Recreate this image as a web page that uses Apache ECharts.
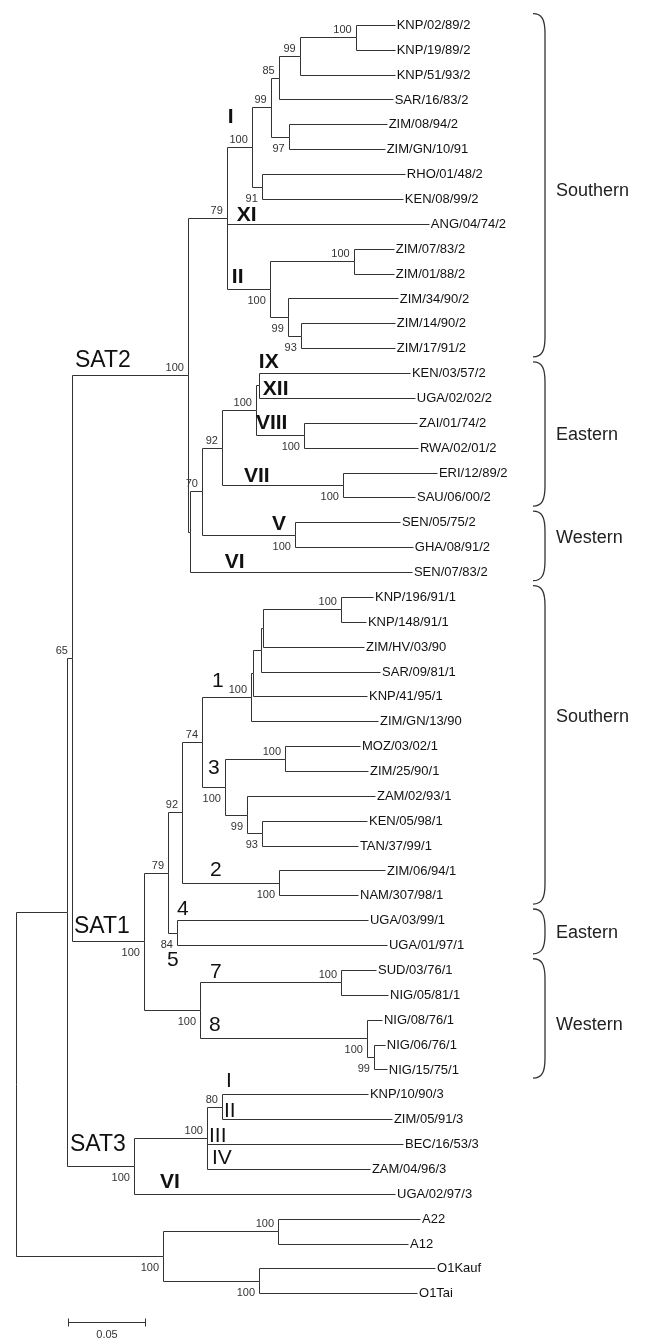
<!DOCTYPE html>
<html>
<head>
<meta charset="utf-8">
<script src="https://cdn.jsdelivr.net/npm/echarts@6/dist/echarts.min.js"></script>
<style>
  html, body { margin: 0; background: #fff; }
  #chart { width: 669px; height: 1343px; }
</style>
</head>
<body>
<div id="chart"></div>
<script>
// leaf order, top to bottom
var taxa = [
  'KNP/02/89/2', 'KNP/19/89/2', 'KNP/51/93/2', 'SAR/16/83/2', 'ZIM/08/94/2', 'ZIM/GN/10/91',
  'RHO/01/48/2', 'KEN/08/99/2', 'ANG/04/74/2', 'ZIM/07/83/2', 'ZIM/01/88/2', 'ZIM/34/90/2',
  'ZIM/14/90/2', 'ZIM/17/91/2', 'KEN/03/57/2', 'UGA/02/02/2', 'ZAI/01/74/2', 'RWA/02/01/2',
  'ERI/12/89/2', 'SAU/06/00/2', 'SEN/05/75/2', 'GHA/08/91/2', 'SEN/07/83/2',
  'KNP/196/91/1', 'KNP/148/91/1', 'ZIM/HV/03/90', 'SAR/09/81/1', 'KNP/41/95/1', 'ZIM/GN/13/90',
  'MOZ/03/02/1', 'ZIM/25/90/1', 'ZAM/02/93/1', 'KEN/05/98/1', 'TAN/37/99/1', 'ZIM/06/94/1',
  'NAM/307/98/1', 'UGA/03/99/1', 'UGA/01/97/1', 'SUD/03/76/1', 'NIG/05/81/1', 'NIG/08/76/1',
  'NIG/06/76/1', 'NIG/15/75/1',
  'KNP/10/90/3', 'ZIM/05/91/3', 'BEC/16/53/3', 'ZAM/04/96/3', 'UGA/02/97/3',
  'A22', 'A12', 'O1Kauf', 'O1Tai'
];

// [node, parent, branch length (subst./site), bootstrap]
var baseBranches = [
  ['IN', 'root', 0.0331, null],
  ['S21', 'IN', 0.0032, 65]
];

var sat2Branches = [
  ['SAT2', 'S21', 0.0753, 100],
  ['n79', 'SAT2', 0.0253, 79],
  ['nI', 'n79', 0.0162, 100],
  ['n99a', 'nI', 0.0123, 99],
  ['n85', 'n99a', 0.0052, 85],
  ['n99b', 'n85', 0.0136, 99],
  ['n100a', 'n99b', 0.0364, 100],
  ['KNP/02/89/2', 'n100a', 0.0253, null],
  ['KNP/19/89/2', 'n100a', 0.0253, null],
  ['KNP/51/93/2', 'n99b', 0.0617, null],
  ['SAR/16/83/2', 'n85', 0.0740, null],
  ['n97', 'n99a', 0.0117, 97],
  ['ZIM/08/94/2', 'n97', 0.0636, null],
  ['ZIM/GN/10/91', 'n97', 0.0623, null],
  ['n91', 'nI', 0.0065, 91],
  ['RHO/01/48/2', 'n91', 0.0929, null],
  ['KEN/08/99/2', 'n91', 0.0916, null],
  ['ANG/04/74/2', 'n79', 0.1312, null],
  ['nII', 'n79', 0.0279, 100],
  ['n100b', 'nII', 0.0545, 100],
  ['ZIM/07/83/2', 'n100b', 0.0260, null],
  ['ZIM/01/88/2', 'n100b', 0.0260, null],
  ['n99c', 'nII', 0.0117, 99],
  ['ZIM/34/90/2', 'n99c', 0.0714, null],
  ['n93', 'n99c', 0.0084, 93],
  ['ZIM/14/90/2', 'n93', 0.0610, null],
  ['ZIM/17/91/2', 'n93', 0.0610, null],
  ['n190', 'SAT2', 0.0013, null],
  ['n70', 'n190', 0.0078, 70],
  ['n92', 'n70', 0.0130, 92],
  ['n100c', 'n92', 0.0221, 100],
  ['nIX', 'n100c', 0.0019, null],
  ['KEN/03/57/2', 'nIX', 0.0981, null],
  ['UGA/02/02/2', 'nIX', 0.1013, null],
  ['nVIII', 'n100c', 0.0312, 100],
  ['ZAI/01/74/2', 'nVIII', 0.0734, null],
  ['RWA/02/01/2', 'nVIII', 0.0740, null],
  ['nVII', 'n92', 0.0786, 100],
  ['ERI/12/89/2', 'nVII', 0.0610, null],
  ['SAU/06/00/2', 'nVII', 0.0468, null],
  ['nV', 'n70', 0.0604, 100],
  ['SEN/05/75/2', 'nV', 0.0682, null],
  ['GHA/08/91/2', 'nV', 0.0766, null],
  ['SEN/07/83/2', 'n190', 0.1442, null]
];

var sat1Branches = [
  ['SAT1', 'S21', 0.0468, 100],
  ['n79b', 'SAT1', 0.0156, 79],
  ['n92b', 'n79b', 0.0091, 92],
  ['n74', 'n92b', 0.0130, 74],
  ['n1', 'n74', 0.0318, 100],
  ['nC', 'n1', 0.0013, null],
  ['nB', 'nC', 0.0052, null],
  ['nA', 'nB', 0.0013, null],
  ['n100d', 'nA', 0.0506, 100],
  ['KNP/196/91/1', 'n100d', 0.0208, null],
  ['KNP/148/91/1', 'n100d', 0.0162, null],
  ['ZIM/HV/03/90', 'nA', 0.0656, null],
  ['SAR/09/81/1', 'nB', 0.0773, null],
  ['KNP/41/95/1', 'nC', 0.0740, null],
  ['ZIM/GN/13/90', 'n1', 0.0825, null],
  ['n3', 'n74', 0.0149, 100],
  ['n100e', 'n3', 0.0390, 100],
  ['MOZ/03/02/1', 'n100e', 0.0487, null],
  ['ZIM/25/90/1', 'n100e', 0.0539, null],
  ['n99d', 'n3', 0.0143, 99],
  ['ZAM/02/93/1', 'n99d', 0.0831, null],
  ['n93b', 'n99d', 0.0097, 93],
  ['KEN/05/98/1', 'n93b', 0.0682, null],
  ['TAN/37/99/1', 'n93b', 0.0623, null],
  ['n2', 'n92b', 0.0630, 100],
  ['ZIM/06/94/1', 'n2', 0.0688, null],
  ['NAM/307/98/1', 'n2', 0.0513, null],
  ['n84', 'n79b', 0.0058, 84],
  ['UGA/03/99/1', 'n84', 0.1240, null],
  ['UGA/01/97/1', 'n84', 0.1364, null],
  ['nW', 'SAT1', 0.0364, 100],
  ['n7', 'nW', 0.0916, 100],
  ['SUD/03/76/1', 'n7', 0.0227, null],
  ['NIG/05/81/1', 'n7', 0.0305, null],
  ['n8', 'nW', 0.1084, 100],
  ['NIG/08/76/1', 'n8', 0.0097, null],
  ['n99e', 'n8', 0.0045, 99],
  ['NIG/06/76/1', 'n99e', 0.0071, null],
  ['NIG/15/75/1', 'n99e', 0.0084, null]
];

var sat3Branches = [
  ['SAT3', 'IN', 0.0435, 100],
  ['n100f', 'SAT3', 0.0474, 100],
  ['n80', 'n100f', 0.0097, 80],
  ['KNP/10/90/3', 'n80', 0.0948, null],
  ['ZIM/05/91/3', 'n80', 0.1104, null],
  ['BEC/16/53/3', 'n100f', 0.1273, null],
  ['ZAM/04/96/3', 'n100f', 0.1058, null],
  ['UGA/02/97/3', 'SAT3', 0.1695, null]
];

var outgroupBranches = [
  ['OUT', 'root', 0.0955, 100],
  ['nA22', 'OUT', 0.0747, 100],
  ['A22', 'nA22', 0.0922, null],
  ['A12', 'nA22', 0.0844, null],
  ['nO1', 'OUT', 0.0623, 100],
  ['O1Kauf', 'nO1', 0.1143, null],
  ['O1Tai', 'nO1', 0.1026, null]
];

// [label, node whose branch it marks]
var cladeLabels = [
  ['SAT2', 'SAT2'], ['SAT1', 'SAT1'], ['SAT3', 'SAT3'],
  ['I', 'nI'], ['XI', 'ANG/04/74/2'], ['II', 'nII'], ['IX', 'KEN/03/57/2'], ['XII', 'UGA/02/02/2'],
  ['VIII', 'nVIII'], ['VII', 'nVII'], ['V', 'nV'], ['VI', 'SEN/07/83/2'],
  ['1', 'n1'], ['3', 'n3'], ['2', 'n2'], ['4', 'UGA/03/99/1'], ['5', 'UGA/01/97/1'], ['7', 'n7'], ['8', 'n8'],
  ['I', 'KNP/10/90/3'], ['II', 'ZIM/05/91/3'], ['III', 'BEC/16/53/3'], ['IV', 'ZAM/04/96/3'], ['VI', 'UGA/02/97/3']
];

// topotype groups: name, first and last leaf row
var groupNames = ['Southern', 'Eastern', 'Western', 'Southern', 'Eastern', 'Western'];
var groupFirst = [0, 14, 20, 23, 36, 38];
var groupLast = [13, 19, 22, 35, 37, 42];

var scaleBarLength = 0.05;
var scaleBarText = '0.05';

// ---- layout ----
var ROW = 24.95;
var FONT = '"Liberation Sans", Arial, Helvetica, sans-serif';
var LINE = '#333';
// label nudges in px: [dx from parent node, dy from branch]
var cladeNudge = {
  'SAT2': [3, -14], 'SAT1': [2, -15], 'SAT3': [3, -21],
  'nI': [1, -30], 'ANG/04/74/2': [10, -9], 'nII': [5, -12], 'KEN/03/57/2': [0, -11],
  'UGA/02/02/2': [4, -9], 'nVIII': [0, -12], 'nVII': [22, -9], 'nV': [70, -11], 'SEN/07/83/2': [35, -10],
  'n1': [10, -16], 'n3': [6, -18], 'n2': [28, -13], 'UGA/03/99/1': [0, -11], 'UGA/01/97/1': [-10, 15],
  'n7': [10, -10], 'n8': [9, -13],
  'KNP/10/90/3': [4, -13], 'ZIM/05/91/3': [2, -8], 'BEC/16/53/3': [2, -8], 'ZAM/04/96/3': [5, -11],
  'UGA/02/97/3': [26, -12]
};
// heavier lineage numerals
var boldLabels = ['nI', 'ANG/04/74/2', 'nII', 'KEN/03/57/2', 'UGA/02/02/2', 'nVIII', 'nVII', 'nV',
  'SEN/07/83/2', 'UGA/02/97/3'];
var groupLabelShift = [0.2, 0, -0.35, -1.15, 0, 0.2];
var braceX = 545, braceHook = 12, groupTextX = 556;
var scaleBarStart = 0.0338, scaleBarRow = 52.15;

// ---- build tree ----
var branches = baseBranches.concat(sat2Branches, sat1Branches, sat3Branches, outgroupBranches);
var nodes = {};
function getNode(id) {
  if (!nodes[id]) nodes[id] = { id: id, children: [], len: 0, support: null, parent: null };
  return nodes[id];
}
branches.forEach(function (b) {
  var n = getNode(b[0]);
  n.parent = b[1];
  n.len = b[2];
  n.support = b[3];
  getNode(b[1]).children.push(b[0]);
});

function place(id, x) {
  var n = nodes[id];
  n.x = x;
  if (!n.children.length) {
    n.y = taxa.indexOf(id);
    return;
  }
  var ys = n.children.map(function (c) {
    place(c, x + nodes[c].len);
    return nodes[c].y;
  });
  n.y = (Math.min.apply(null, ys) + Math.max.apply(null, ys)) / 2;
}
place('root', 0);

var edgeData = [], supportData = [], supportText = [];
branches.forEach(function (b) {
  var n = nodes[b[0]], p = nodes[b[1]];
  edgeData.push([p.x, n.x, n.y, p.y]);
  if (n.support != null) {
    supportData.push([n.x, n.y, n.y < p.y ? 1 : 0]);
    supportText.push(String(n.support));
  }
});

var leafData = taxa.map(function (t, i) { return [nodes[t].x, i]; });

var cladeData = cladeLabels.map(function (c) {
  var n = nodes[c[1]];
  return [nodes[n.parent].x, n.y];
});

var groupData = groupNames.map(function (g, i) { return [groupFirst[i], groupLast[i]]; });

function crisp(v) { return Math.round(v) + 0.5; }

var chart = echarts.init(document.getElementById('chart'), null, { renderer: 'canvas' });

chart.setOption({
  animation: false,
  grid: { left: 16, top: 0, width: 616, height: 54 * ROW },
  xAxis: { type: 'value', min: 0, max: 0.4, show: false },
  yAxis: { type: 'value', min: -1, max: 53, inverse: true, show: false },
  series: [
    {
      // branches drawn as elbows
      type: 'custom', silent: true, data: edgeData,
      encode: { x: [0, 1], y: [2, 3] },
      renderItem: function (params, api) {
        var a = api.coord([api.value(0), api.value(3)]);
        var c = api.coord([api.value(1), api.value(2)]);
        var x0 = crisp(a[0]), y0 = crisp(a[1]), x1 = crisp(c[0]), y1 = crisp(c[1]);
        return {
          type: 'polyline',
          shape: { points: [[x0, y0], [x0, y1], [x1, y1]] },
          style: { stroke: LINE, lineWidth: 1, fill: null }
        };
      }
    },
    {
      // taxon names
      type: 'custom', silent: true, data: leafData,
      renderItem: function (params, api) {
        var p = api.coord([api.value(0), api.value(1)]);
        return {
          type: 'text', x: p[0] + 2, y: p[1] + 0.5,
          style: { text: taxa[params.dataIndex], font: '13px ' + FONT, fill: '#111',
                   textAlign: 'left', textVerticalAlign: 'middle' }
        };
      }
    },
    {
      // bootstrap values
      type: 'custom', silent: true, data: supportData,
      renderItem: function (params, api) {
        var p = api.coord([api.value(0), api.value(1)]);
        var above = api.value(2) === 1;
        return {
          type: 'text', x: p[0] - 4, y: p[1] + (above ? -7 : 12),
          style: { text: supportText[params.dataIndex], font: '11px ' + FONT, fill: '#333',
                   textAlign: 'right', textVerticalAlign: 'middle' }
        };
      }
    },
    {
      // serotype and lineage labels
      type: 'custom', silent: true, data: cladeData,
      renderItem: function (params, api) {
        var lab = cladeLabels[params.dataIndex];
        var p = api.coord([api.value(0), api.value(1)]);
        var nudge = cladeNudge[lab[1]] || [4, -10];
        var big = lab[0].indexOf('SAT') === 0;
        var weight = boldLabels.indexOf(lab[1]) >= 0 ? 'bold ' : '';
        return {
          type: 'text', x: p[0] + nudge[0], y: p[1] + nudge[1],
          style: { text: lab[0], font: weight + (big ? '23px ' : '21px ') + FONT, fill: '#111',
                   textAlign: 'left', textVerticalAlign: 'middle' }
        };
      }
    },
    {
      // topotype braces
      type: 'custom', silent: true, data: groupData,
      renderItem: function (params, api) {
        var i = params.dataIndex;
        var top = api.coord([0, api.value(0) - 0.45])[1];
        var bot = api.coord([0, api.value(1) + 0.35])[1];
        var mid = api.coord([0, (api.value(0) + api.value(1)) / 2 + groupLabelShift[i]])[1];
        var x = braceX, h = braceHook;
        var d = 'M' + (x - h) + ',' + top +
          ' C' + (x - 3) + ',' + top + ' ' + x + ',' + (top + 6) + ' ' + x + ',' + (top + 20) +
          ' L' + x + ',' + (bot - 20) +
          ' C' + x + ',' + (bot - 6) + ' ' + (x - 3) + ',' + bot + ' ' + (x - h) + ',' + bot;
        return {
          type: 'group',
          children: [
            { type: 'path', shape: { pathData: d }, style: { stroke: '#333', lineWidth: 1.3, fill: null } },
            { type: 'text', x: groupTextX, y: mid,
              style: { text: groupNames[i], font: '18px ' + FONT, fill: '#222',
                       textAlign: 'left', textVerticalAlign: 'middle' } }
          ]
        };
      }
    },
    {
      // scale bar
      type: 'custom', silent: true, data: [[scaleBarStart, scaleBarRow]],
      renderItem: function (params, api) {
        var a = api.coord([api.value(0), api.value(1)]);
        var b = api.coord([api.value(0) + scaleBarLength, api.value(1)]);
        var y = crisp(a[1]), x0 = crisp(a[0]), x1 = crisp(b[0]);
        return {
          type: 'group',
          children: [
            { type: 'line', shape: { x1: x0, y1: y, x2: x1, y2: y }, style: { stroke: '#333', lineWidth: 1 } },
            { type: 'line', shape: { x1: x0, y1: y - 4, x2: x0, y2: y + 4 }, style: { stroke: '#333', lineWidth: 1 } },
            { type: 'line', shape: { x1: x1, y1: y - 4, x2: x1, y2: y + 4 }, style: { stroke: '#333', lineWidth: 1 } },
            { type: 'text', x: (x0 + x1) / 2, y: y + 12,
              style: { text: scaleBarText, font: '11px ' + FONT, fill: '#333',
                       textAlign: 'center', textVerticalAlign: 'middle' } }
          ]
        };
      }
    }
  ]
});
</script>
</body>
</html>
